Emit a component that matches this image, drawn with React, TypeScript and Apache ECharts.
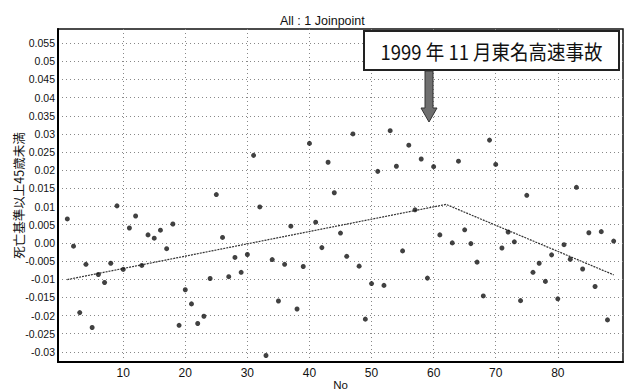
import React, { useEffect, useRef } from "react";
import * as echarts from "echarts";

const noValues: number[] = [
  1, 2, 3, 4, 5, 6, 7, 8, 9, 10, 11, 12, 13, 14, 15, 16, 17, 18, 19, 20,
  21, 22, 23, 24, 25, 26, 27, 28, 29, 30, 31, 32, 33, 34, 35, 36, 37, 38, 39, 40,
  41, 42, 43, 44, 45, 46, 47, 48, 49, 50, 51, 52, 53, 54, 55, 56, 57, 58, 59, 60,
  61, 63, 64, 65, 66, 67, 68, 69, 70, 71, 72, 73, 74, 75, 76, 77, 78, 79, 80,
  81, 82, 83, 84, 85, 86, 87, 88, 89,
];
const rateValues: number[] = [
  0.0066, -0.0009, -0.0192, -0.0059, -0.0233, -0.0087, -0.0109, -0.0056, 0.0102, -0.0073,
  0.0041, 0.0074, -0.0062, 0.0022, 0.0013, 0.0035, -0.0016, 0.0052, -0.0227, -0.0129,
  -0.0168, -0.0222, -0.0202, -0.0098, 0.0133, 0.0015, -0.0093, -0.004, -0.0081, -0.0032,
  0.0241, 0.0099, -0.031, -0.0046, -0.016, -0.0059, 0.0046, -0.0182, -0.0065, 0.0274,
  0.0057, -0.0013, 0.0222, 0.0138, 0.0027, -0.0037, 0.03, -0.0064, -0.021, -0.0112,
  0.0197, -0.0117, 0.0309, 0.0211, -0.0022, 0.0269, 0.0091, 0.0231, -0.0097, 0.021,
  0.0022, 0.0, 0.0225, 0.0036, -0.0002, -0.0053, -0.0146, 0.0283, 0.0216, -0.0014,
  0.003, 0.0003, -0.0159, 0.0131, -0.0081, -0.0056, -0.0106, -0.0033, -0.0154,
  -0.0005, -0.0045, 0.0153, -0.0072, 0.0028, -0.012, 0.0031, -0.0212, 0.0005,
];
const trendNo: number[] = [1, 62, 89];
const trendRate: number[] = [-0.0101, 0.0106, -0.0088];

const xTickValues: number[] = [10, 20, 30, 40, 50, 60, 70, 80];
const yTickValues: number[] = [
  0.055, 0.05, 0.045, 0.04, 0.035, 0.03, 0.025, 0.02, 0.015, 0.01, 0.005, 0,
  -0.005, -0.01, -0.015, -0.02, -0.025, -0.03,
];
const yTickLabels: string[] = [
  "0.055", "0.05", "0.045", "0.04", "0.035", "0.03", "0.025", "0.02", "0.015", "0.01", "0.005", "0.00",
  "-0.005", "-0.01", "-0.015", "-0.02", "-0.025", "-0.03",
];

const titleText = "All : 1 Joinpoint";
const xName = "No";
const yName = "死亡基準以上45歳未満";
const noteText = "1999 年 11 月東名高速事故";

const X_MIN = -0.5;
const X_MAX = 90.5;
const Y_MIN = -0.0328;
const Y_MAX = 0.0589;

const FONT = "'Liberation Sans Narrow', 'Liberation Sans', Arial, sans-serif";
const SANS = "'Liberation Sans', Arial, sans-serif";
const CJK = "'Noto Sans CJK JP', 'Noto Sans', sans-serif";

export default function App() {
  const ref = useRef<HTMLDivElement>(null);
  useEffect(() => {
    if (!ref.current) return;
    const chart = echarts.init(ref.current, undefined, { renderer: "svg" });
    const yLabel = (v: number) => {
      const i = yTickValues.findIndex((t) => Math.abs(t - v) < 1e-9);
      return i >= 0 ? yTickLabels[i] : "";
    };
    const option: any = {
      animation: false,
      backgroundColor: "#ffffff",
      title: {
        text: titleText,
        left: 275,
        top: 9,
        textStyle: { fontFamily: SANS, fontSize: 12.5, fontWeight: "normal", color: "#111" },
      },
      grid: {
        left: 58,
        right: 3,
        top: 29,
        bottom: 30,
        containLabel: false,
        outerBoundsMode: "none",
        show: true,
        borderColor: "#111",
        borderWidth: 1.5,
        backgroundColor: "transparent",
      },
      xAxis: {
        type: "value",
        min: X_MIN,
        max: X_MAX,
        name: xName,
        nameLocation: "middle",
        nameGap: 17,
        nameMoveOverlap: false,
        nameTextStyle: { fontFamily: SANS, fontSize: 11.5, color: "#111" },
        axisLine: { show: true, onZero: false, lineStyle: { color: "#000", width: 2 } },
        axisTick: { show: false, customValues: xTickValues },
        axisLabel: {
          customValues: xTickValues,
          color: "#111",
          fontSize: 12,
          fontFamily: FONT,
          margin: 5,
        },
        splitLine: { show: true, lineStyle: { color: "#888", width: 1, type: [1, 3] } },
      },
      yAxis: {
        type: "value",
        min: Y_MIN,
        max: Y_MAX,
        name: yName,
        nameLocation: "middle",
        nameGap: 33,
        nameRotate: 90,
        nameMoveOverlap: false,
        nameTextStyle: { fontFamily: CJK, fontSize: 12.5, color: "#111" },
        axisLine: { show: true, onZero: false, lineStyle: { color: "#000", width: 2 } },
        axisTick: { show: false, customValues: yTickValues },
        axisLabel: {
          customValues: yTickValues,
          formatter: yLabel,
          color: "#111",
          fontSize: 10.5,
          fontFamily: FONT,
          margin: 3,
        },
        splitLine: { show: true, lineStyle: { color: "#888", width: 1, type: [1, 3] } },
      },
      series: [
        {
          type: "line",
          data: trendNo.map((n, i) => [n, trendRate[i]]),
          symbol: "none",
          lineStyle: { color: "#333", width: 1.2, type: [2, 1] },
          z: 2,
        },
        {
          type: "scatter",
          data: noValues.map((n, i) => [n, rateValues[i]]),
          symbol: "circle",
          symbolSize: 5,
          itemStyle: { color: "#111" },
          z: 3,
        },
      ],
      graphic: [
        {
          type: "rect",
          shape: { x: 364, y: 31, width: 255, height: 39 },
          style: { fill: "#fff", stroke: "#222", lineWidth: 2 },
          z: 10,
        },
        {
          type: "text",
          x: 491.5,
          y: 51,
          scaleY: 1.12,
          style: {
            text: noteText,
            font: "18.5px " + CJK,
            fill: "#111",
            align: "center",
            verticalAlign: "middle",
          },
          z: 11,
        },
        {
          type: "polygon",
          shape: {
            points: [
              [425, 71], [433, 71], [433, 108], [437, 108], [429, 122], [421, 108], [425, 108],
            ],
          },
          style: { fill: "#6f6f6f", stroke: "#333", lineWidth: 1 },
          z: 10,
        },
      ],
    };
    chart.setOption(option);
    return () => chart.dispose();
  }, []);
  return (
    <div
      ref={ref}
      style={{ position: "fixed", left: 0, top: 0, width: 626, height: 392 }}
    />
  );
}
